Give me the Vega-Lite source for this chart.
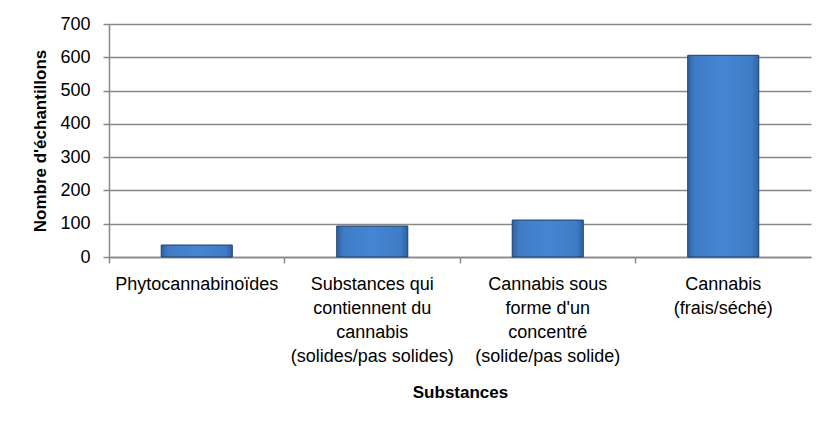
{
  "$schema": "https://vega.github.io/schema/vega-lite/v6.json",
  "width": 702,
  "height": 233,
  "autosize": {"type": "none"},
  "padding": {"left": 109, "top": 24, "right": 24, "bottom": 174},
  "background": "white",
  "config": {
    "view": {"stroke": null},
    "font": "Liberation Sans",
    "axis": {"labelFont": "Liberation Sans", "titleFont": "Liberation Sans", "labelColor": "#000", "titleColor": "#000"}
  },
  "data": {
    "values": [
      {"substance": "Phytocannabinoïdes", "n": 36},
      {"substance": "Substances qui|contiennent du|cannabis|(solides/pas solides)", "n": 93},
      {"substance": "Cannabis sous|forme d'un|concentré|(solide/pas solide)", "n": 111},
      {"substance": "Cannabis|(frais/séché)", "n": 606}
    ]
  },
  "mark": {
    "type": "bar",
    "width": {"band": 0.405},
    "stroke": "#1F3F6B",
    "strokeWidth": 1,
    "color": {
      "gradient": "linear",
      "x1": 0, "y1": 0, "x2": 1, "y2": 0,
      "stops": [
        {"offset": 0, "color": "#2F62A3"},
        {"offset": 0.1, "color": "#3F7CC6"},
        {"offset": 0.5, "color": "#4585D2"},
        {"offset": 0.9, "color": "#3F7CC6"},
        {"offset": 1, "color": "#2F62A3"}
      ]
    }
  },
  "encoding": {
    "x": {
      "field": "substance",
      "type": "nominal",
      "sort": null,
      "scale": {"paddingInner": 0, "paddingOuter": 0},
      "axis": {
        "title": "Substances",
        "titleFontSize": 17,
        "titleFontWeight": "bold",
        "titlePadding": 19,
        "labelExpr": "split(datum.label, '|')",
        "labelFontSize": 18,
        "labelLineHeight": 24,
        "labelAngle": 0,
        "labelPadding": 12,
        "labelLimit": 0,
        "bandPosition": 0,
        "domainColor": "#888888",
        "domainWidth": 1.5,
        "tickColor": "#888888",
        "tickWidth": 1.5,
        "tickSize": 6,
        "grid": false
      }
    },
    "y": {
      "field": "n",
      "type": "quantitative",
      "scale": {"domain": [0, 700]},
      "axis": {
        "title": "Nombre d'échantillons",
        "titleFontSize": 17,
        "titleFontWeight": "bold",
        "titlePadding": 10,
        "values": [0, 100, 200, 300, 400, 500, 600, 700],
        "labelFontSize": 18,
        "labelPadding": 13,
        "domainColor": "#888888",
        "domainWidth": 1.5,
        "tickColor": "#888888",
        "tickWidth": 1.5,
        "tickSize": 6,
        "grid": true,
        "gridColor": "#888888",
        "gridWidth": 1.5
      }
    }
  }
}
